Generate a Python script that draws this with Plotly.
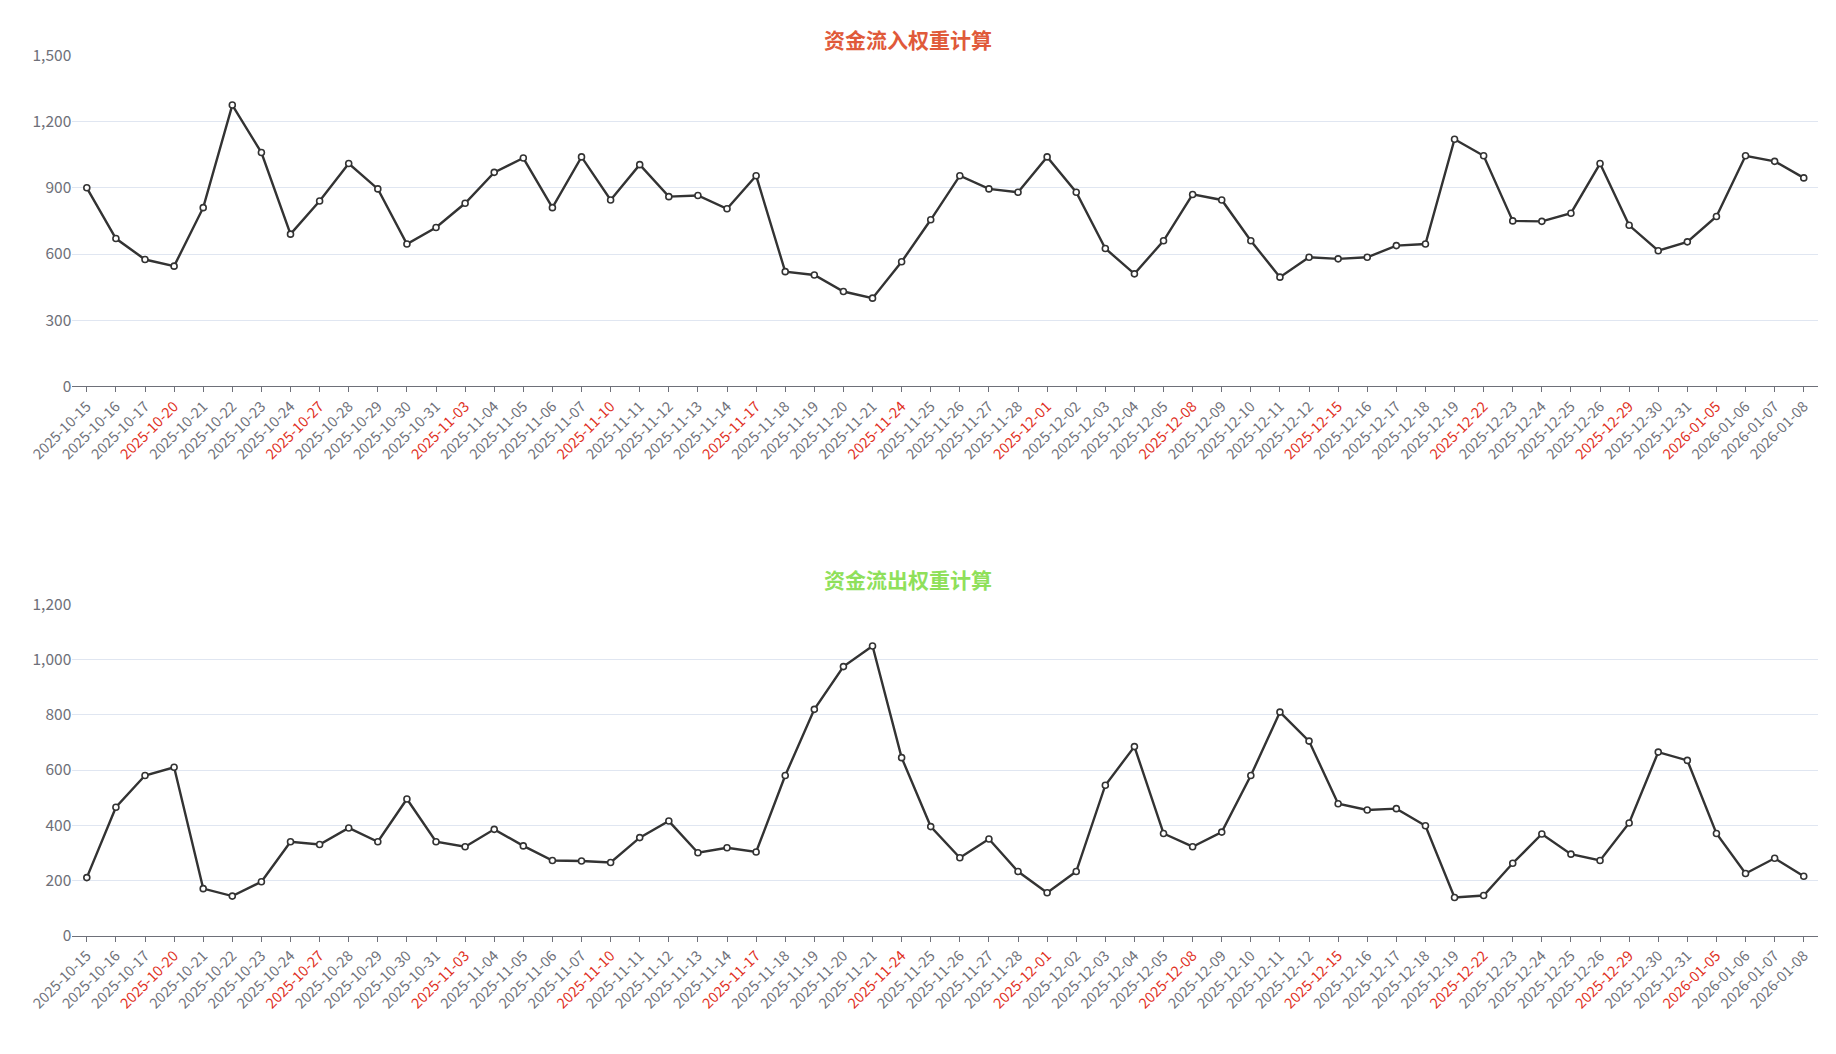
import plotly.graph_objects as go

dates = ["2025-10-15","2025-10-16","2025-10-17","2025-10-20","2025-10-21","2025-10-22","2025-10-23","2025-10-24","2025-10-27","2025-10-28","2025-10-29","2025-10-30","2025-10-31",
"2025-11-03","2025-11-04","2025-11-05","2025-11-06","2025-11-07","2025-11-10","2025-11-11","2025-11-12","2025-11-13","2025-11-14","2025-11-17","2025-11-18","2025-11-19","2025-11-20","2025-11-21","2025-11-24","2025-11-25","2025-11-26","2025-11-27","2025-11-28",
"2025-12-01","2025-12-02","2025-12-03","2025-12-04","2025-12-05","2025-12-08","2025-12-09","2025-12-10","2025-12-11","2025-12-12","2025-12-15","2025-12-16","2025-12-17","2025-12-18","2025-12-19","2025-12-22","2025-12-23","2025-12-24","2025-12-25","2025-12-26","2025-12-29","2025-12-30","2025-12-31",
"2026-01-05","2026-01-06","2026-01-07","2026-01-08"]
red_dates = ["2025-10-20","2025-10-27","2025-11-03","2025-11-10","2025-11-17","2025-11-24","2025-12-01","2025-12-08","2025-12-15","2025-12-22","2025-12-29","2026-01-05"]

inflow = [900,670,575,545,810,1275,1060,690,840,1010,895,645,720,830,970,1035,810,1040,845,1005,860,865,805,955,520,505,430,400,565,755,955,895,880,1040,880,625,510,660,870,845,660,495,585,578,585,638,645,1120,1045,750,748,785,1010,730,615,655,770,1045,1020,945]
outflow = [210,465,580,610,170,143,195,340,330,390,340,495,340,322,385,325,272,270,265,355,415,300,318,303,580,820,975,1050,645,395,282,350,232,155,232,545,685,370,322,375,580,810,705,478,455,460,398,138,145,262,368,295,272,408,665,635,370,225,280,215]

title_top = "资金流入权重计算"
title_bot = "资金流出权重计算"

FONT = "Noto Sans CJK SC"
ticktext = [f'<span style="color:#e0301e">{d}</span>' if d in red_dates else d for d in dates]
idx = list(range(len(dates)))

fig = go.Figure()
for vals, ya in [(inflow, "y"), (outflow, "y2")]:
    fig.add_trace(go.Scatter(x=idx, y=vals, mode="lines+markers", xaxis="x" if ya == "y" else "x2", yaxis=ya,
                             line=dict(color="#333333", width=2.4),
                             marker=dict(size=6, color="white", line=dict(color="#333333", width=1.6)),
                             showlegend=False))

xcommon = dict(tickmode="array", tickvals=idx, ticktext=ticktext, tickangle=-45, range=[-0.5, len(dates)-0.5],
               showline=True, linecolor="#6e7079", ticks="outside", ticklen=5, tickcolor="#6e7079",
               showgrid=False, zeroline=False, tickfont=dict(size=14.5, color="#6e7079", family=FONT),
               domain=[0.035, 0.986], automargin=False)
ycommon = dict(showgrid=True, gridcolor="#e0e6f1", zeroline=False, showline=False, tickformat=",",
               tickfont=dict(size=15.5, color="#6e7079", family=FONT), automargin=False)

fig.update_layout(
    width=1836, height=1054, margin=dict(l=0, r=0, t=0, b=0),
    plot_bgcolor="white", paper_bgcolor="white", font=dict(family=FONT),
    xaxis=dict(**xcommon, anchor="y"),
    xaxis2=dict(**xcommon, anchor="y2"),
    yaxis=dict(**ycommon, domain=[0.641, 0.955], range=[0, 1500], tickvals=[0, 300, 600, 900, 1200, 1500], anchor="x"),
    yaxis2=dict(**ycommon, domain=[0.12, 0.434], range=[0, 1200], tickvals=[0, 200, 400, 600, 800, 1000, 1200], anchor="x2"),
    annotations=[
        dict(text=f"<b>{title_top}</b>", x=0.49, y=0.987, xref="paper", yref="paper", showarrow=False,
             font=dict(size=21, color="#e05a3a", family=FONT)),
        dict(text=f"<b>{title_bot}</b>", x=0.49, y=0.458, xref="paper", yref="paper", showarrow=False,
             font=dict(size=21, color="#8fe05a", family=FONT)),
    ],
)
fig.write_html("out.html")
